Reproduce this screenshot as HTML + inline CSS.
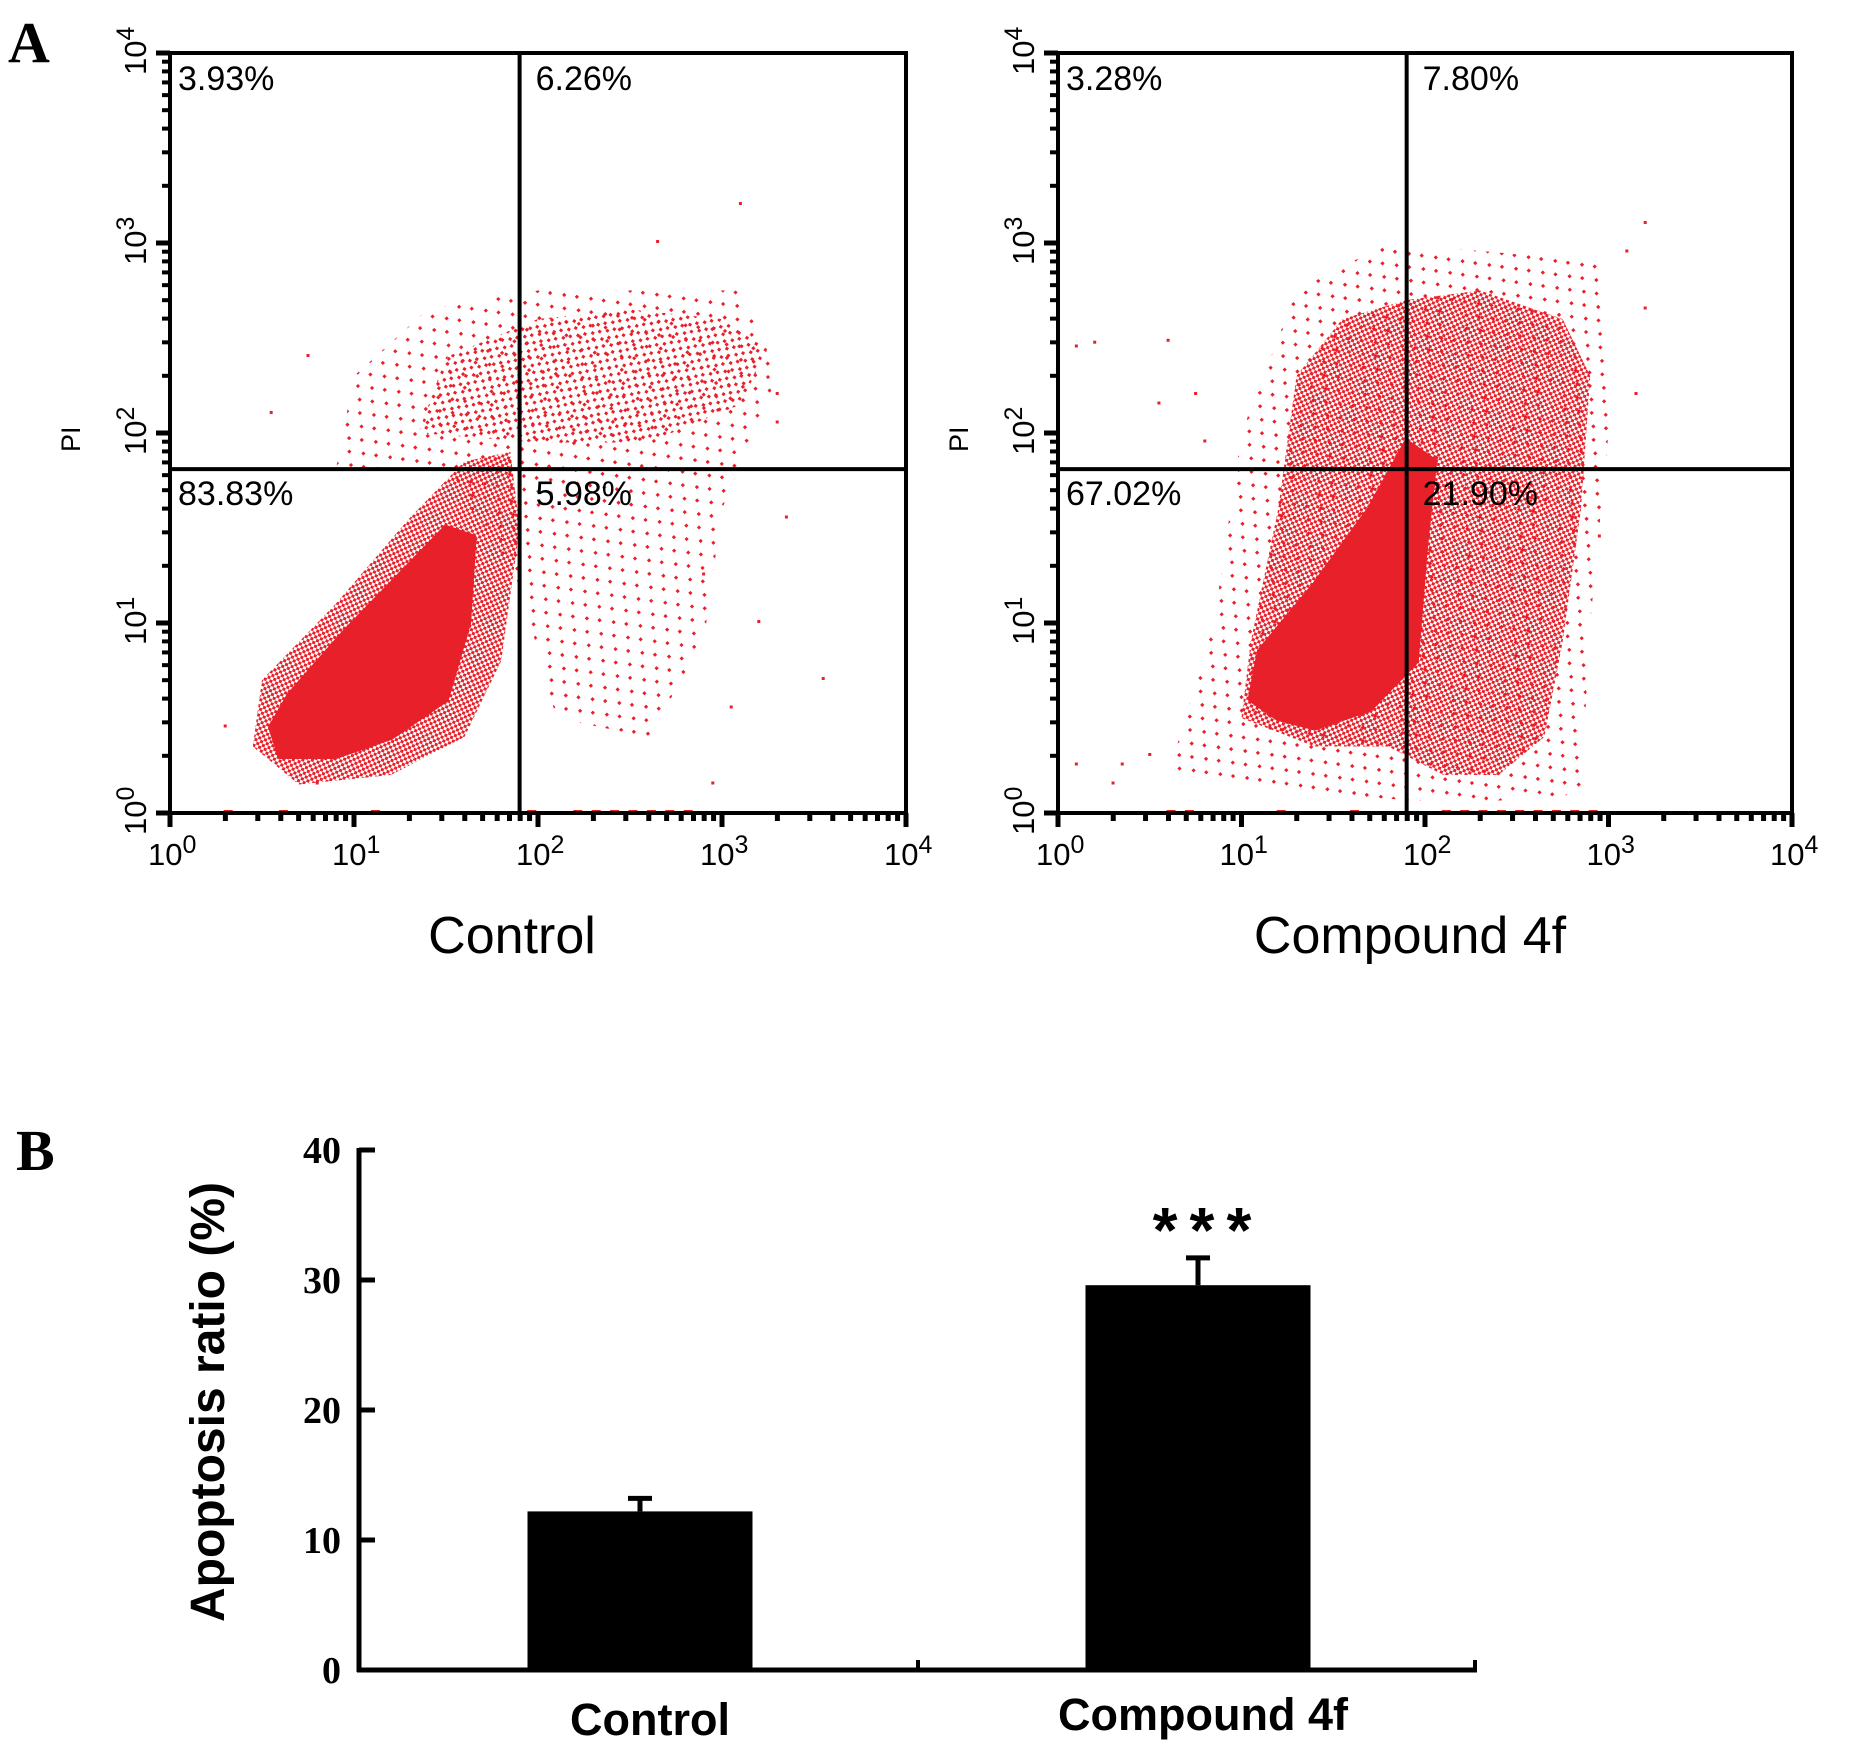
<!DOCTYPE html>
<html><head><meta charset="utf-8">
<style>
html,body{margin:0;padding:0;background:#fff;}
svg{display:block;}
</style></head>
<body>
<svg id="fig" width="1854" height="1748" viewBox="0 0 1854 1748" xmlns="http://www.w3.org/2000/svg">
<defs>
<pattern id="dotsMed" width="6" height="6" patternUnits="userSpaceOnUse" patternTransform="rotate(20)"><rect x="0" y="0" width="3" height="3" fill="#e8202a"/><rect x="3" y="3" width="3" height="3" fill="#e8202a"/></pattern>
<pattern id="dotsSparse" width="11" height="10" patternUnits="userSpaceOnUse" patternTransform="rotate(33)"><rect x="0" y="0" width="3" height="3" fill="#e8202a"/><rect x="6" y="5" width="3" height="3" fill="#e8202a"/></pattern>
<pattern id="dotsThin" width="21" height="17" patternUnits="userSpaceOnUse" patternTransform="rotate(47)"><rect x="0" y="0" width="3" height="3" fill="#e8202a"/><rect x="11" y="8" width="3" height="3" fill="#e8202a"/></pattern>
</defs>
<g id="panelA"></g>
<g id="panelB"></g>
</svg>
<script>
// ---------- Panel A data (log10 units) ----------
const ctrlDense = [[0.55,0.45],[0.65,0.62],[0.95,0.95],[1.25,1.25],[1.5,1.5],[1.65,1.45],[1.62,1.0],[1.5,0.6],[1.2,0.4],[0.9,0.3],[0.6,0.3]];
const ctrlMedium = [[0.45,0.35],[0.5,0.7],[0.9,1.1],[1.3,1.55],[1.6,1.85],[1.85,1.9],[1.9,1.5],[1.8,0.8],[1.6,0.4],[1.2,0.2],[0.7,0.15]];
const ctrlUpper = [[1.35,2.0],[1.5,2.4],[2.0,2.6],[2.5,2.65],[3.0,2.6],[3.25,2.45],[3.1,2.15],[2.6,1.95],[2.0,1.95]];
const ctrlSparse = [[0.9,1.8],[1.0,2.3],[1.4,2.65],[2.0,2.75],[3.1,2.75],[3.3,2.3],[3.0,1.6],[2.9,0.9],[2.6,0.4],[2.1,0.5],[1.9,1.2],[1.5,1.8]];
const ctrlEvents = [[2.3,0],[2.4,0],[2.5,0],[2.6,0],[2.7,0],[2.8,0],[2.2,0],[1.95,0],[0.3,0],[0.6,0],[1.1,0],[0.8,0.15],[0.3,0.45],[3.1,3.2],[2.65,3.0],[3.3,2.2],[0.75,2.4],[0.55,2.1],[3.35,1.55],[3.55,0.7],[3.2,1.0],[2.95,0.15],[3.05,0.55],[2.9,1.25],[0.0,0.4],[3.3,2.05]];
const treatDense = [[1.05,0.6],[1.1,0.85],[1.4,1.2],[1.7,1.6],[1.9,1.95],[2.05,1.85],[2.0,1.4],[1.95,0.8],[1.7,0.55],[1.4,0.45],[1.2,0.5]];
const treatMedium = [[1.0,0.5],[1.05,0.9],[1.2,1.6],[1.3,2.3],[1.55,2.6],[1.9,2.7],[2.3,2.75],[2.75,2.6],[2.9,2.3],[2.85,1.6],[2.75,0.9],[2.65,0.4],[2.4,0.2],[2.1,0.2],[1.8,0.35],[1.4,0.35]];
const treatSparse = [[0.6,0.2],[0.85,1.0],[1.0,2.0],[1.3,2.75],[1.8,3.0],[2.4,2.95],[2.95,2.9],[3.0,2.0],[2.9,1.0],[2.85,0.1],[2.2,0.05],[1.4,0.1]];
const treatEvents = [[2.1,0],[2.2,0],[2.3,0],[2.4,0],[2.5,0],[2.6,0],[2.7,0],[2.8,0],[2.9,0],[0.6,0],[0.7,0],[1.2,0],[1.6,0],[0.1,0.25],[0.3,0.15],[0.35,0.25],[0.5,0.3],[0.1,2.45],[0.2,2.47],[0.55,2.15],[0.6,2.48],[3.2,3.1],[3.1,2.95],[3.2,2.65],[3.15,2.2],[0.75,2.2],[0.8,1.95],[3.1,1.8],[2.95,1.45]];
const quadLabelsCtrl = ["3.93%","6.26%","83.83%","5.98%"];
const quadLabelsTreat = ["3.28%","7.80%","67.02%","21.90%"];
const decadeLabels = ["0","1","2","3","4"];
const gateX = 1.9, gateY = 1.81;

// ---------- Panel B data ----------
const barCategories = ["Control","Compound 4f"];
const barValues = [12.2, 29.6];
const barErrors = [1.0, 2.1];
const barTicks = [0,10,20,30,40];

const NS = "http://www.w3.org/2000/svg";
function mk(tag, attrs, parent){const e=document.createElementNS(NS,tag);for(const k in attrs)e.setAttribute(k,attrs[k]);if(parent)parent.appendChild(e);return e;}
const FONT = "'Liberation Sans', sans-serif";
const SERIF = "'Liberation Serif', serif";
const A = document.getElementById('panelA');
const B = document.getElementById('panelB');

let t = mk('text',{x:8,y:62,'font-family':SERIF,'font-size':58,'font-weight':'bold'},A);


t.textContent='A';

function drawFlow(L,R,T,Bt,dense,medium,upper,sparse,events,labels,title,key,titleX){
  const g = mk('g',{},A);
  
  
  const sx = v => L + (R-L)*v/4;
  const sy = v => Bt - (Bt-T)*v/4;
  const pts = arr => arr.map(p=>sx(p[0]).toFixed(1)+','+sy(p[1]).toFixed(1)).join(' ');
  const clip = mk('clipPath',{id:key+'clip'},g); mk('rect',{x:L,y:T,width:R-L,height:Bt-T},clip);
  const dg = mk('g',{'clip-path':'url(#'+key+'clip)'},g);
  let e = mk('polygon',{points:pts(sparse),fill:'url(#dotsThin)'},dg);
   
  if(upper){ e = mk('polygon',{points:pts(upper),fill:'url(#dotsSparse)'},dg);
    }
  e = mk('polygon',{points:pts(medium),fill:'url(#dotsMed)'},dg);
   
  e = mk('polygon',{points:pts(dense),fill:'#e8202a','stroke':'#e8202a','stroke-width':6,'stroke-linejoin':'round'},dg);
   
  events.forEach(p=>{ const r=mk('rect',{x:sx(p[0])-1.5,y:sy(p[1])-3,width:p[1]===0?9:3,height:3,fill:'#e8202a'},dg);
      });
  e = mk('rect',{x:L,y:T,width:R-L,height:Bt-T,fill:'none',stroke:'#000','stroke-width':4},g);
   
  e = mk('line',{x1:sx(gateX),x2:sx(gateX),y1:T,y2:Bt,stroke:'#000','stroke-width':4},g);
   
  e = mk('line',{x1:L,x2:R,y1:sy(gateY),y2:sy(gateY),stroke:'#000','stroke-width':4},g);
   
  for(let d=0; d<4; d++){ for(let m=1;m<10;m++){ const lv=d+Math.log10(m); const len=m===1?14:8;
    mk('line',{x1:sx(lv),x2:sx(lv),y1:Bt,y2:Bt+len,stroke:'#000','stroke-width':5},g);
    mk('line',{x1:L,x2:L-len,y1:sy(lv),y2:sy(lv),stroke:'#000','stroke-width':m===1?5:4},g);} }
  mk('line',{x1:R,x2:R,y1:Bt,y2:Bt+14,stroke:'#000','stroke-width':5},g);
  mk('line',{x1:L,x2:L-14,y1:T,y2:T,stroke:'#000','stroke-width':5},g);
  decadeLabels.forEach((lab,i)=>{
    const tx = mk('text',{x:sx(i)-22,y:Bt+52,'font-family':FONT,'font-size':31},g);
     
    tx.innerHTML='10<tspan dy="-12" font-size="25">'+lab+'</tspan>';
    const ty = mk('text',{x:0,y:0,'font-family':FONT,'font-size':31,transform:'translate('+(L-24)+','+(sy(i)+22)+') rotate(-90)'},g);
     
    ty.innerHTML='10<tspan dy="-12" font-size="25">'+lab+'</tspan>';
  });
  const pi = mk('text',{x:0,y:0,'font-family':FONT,'font-size':27,transform:'translate('+(L-90)+',452) rotate(-90)'},g);
    pi.textContent='PI';
  const qx=[L+8, sx(gateX)+16, L+8, sx(gateX)+16], qy=[T+37, T+37, sy(gateY)+36, sy(gateY)+36];
  labels.forEach((lab,i)=>{ const q=mk('text',{x:qx[i],y:qy[i],'font-family':FONT,'font-size':34},g);
      q.textContent=lab; });
  const tt = mk('text',{x:titleX,y:Bt+140,'text-anchor':'middle','font-family':FONT,'font-size':52},g);
    tt.textContent=title;
}
drawFlow(170,906,53,813,ctrlDense,ctrlMedium,ctrlUpper,ctrlSparse,ctrlEvents,quadLabelsCtrl,'Control','control',512);
drawFlow(1058,1792,53,813,treatDense,treatMedium,null,treatSparse,treatEvents,quadLabelsTreat,'Compound 4f','compound',1410);

// ---------- Panel B ----------
t = mk('text',{x:16,y:1170,'font-family':SERIF,'font-size':58,'font-weight':'bold'},B);


t.textContent='B';
const bx0=359, bx1=1477, by0=1670, by1=1150, ymax=40;
const yS = v => by0 - (by0-by1)*v/ymax;
const centers=[640,1198], bw=225;
let ax = mk('line',{x1:bx0,x2:bx0,y1:by1-2,y2:by0+2,stroke:'#000','stroke-width':5},B);
 
ax = mk('line',{x1:bx0-2,x2:bx1,y1:by0,y2:by0,stroke:'#000','stroke-width':5},B);
 
mk('line',{x1:918,x2:918,y1:by0,y2:by0-10,stroke:'#000','stroke-width':4},B);
mk('line',{x1:bx1-2,x2:bx1-2,y1:by0,y2:by0-10,stroke:'#000','stroke-width':4},B);
barTicks.forEach(v=>{
  if(v>0) mk('line',{x1:bx0,x2:bx0+16,y1:yS(v),y2:yS(v),stroke:'#000','stroke-width':5},B);
  const tl = mk('text',{x:341,y:yS(v)+13,'text-anchor':'end','font-family':SERIF,'font-size':38,'font-weight':'bold'},B);
    tl.textContent=v;
});
const yt = mk('text',{x:0,y:0,'text-anchor':'middle','font-family':FONT,'font-size':48,'font-weight':'bold',transform:'translate(224,1402) rotate(-90)'},B);
  yt.textContent='Apoptosis ratio (%)';
barCategories.forEach((c,i)=>{
  const cx=centers[i];
  const bar = mk('rect',{x:cx-bw/2,y:yS(barValues[i]),width:bw,height:by0-yS(barValues[i]),fill:'#000'},B);
   
  const et=yS(barValues[i]+barErrors[i]);
  const el = mk('line',{x1:cx,x2:cx,y1:et,y2:yS(barValues[i]),stroke:'#000','stroke-width':5},B);
   
  const ec = mk('line',{x1:cx-12,x2:cx+12,y1:et,y2:et,stroke:'#000','stroke-width':5},B);
   
  const cl = mk('text',{x:i===0?650:1203,y:i===0?1735:1730,'text-anchor':'middle','font-family':FONT,'font-size':45,'font-weight':'bold'},B);
    cl.textContent=c;
});
const st = mk('text',{x:1208,y:1252,'text-anchor':'middle','font-family':FONT,'font-size':64,'font-weight':'bold','letter-spacing':'12'},B);
  st.textContent='***';
</script>
</body></html>
